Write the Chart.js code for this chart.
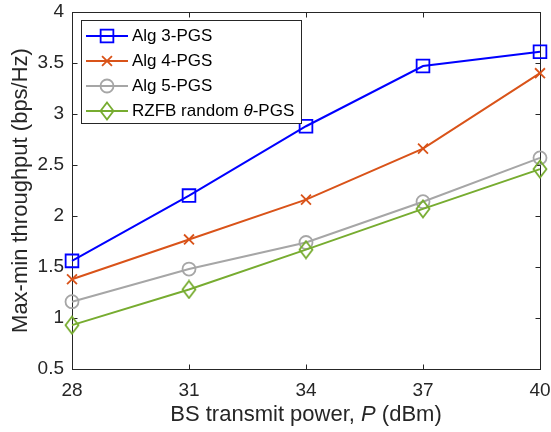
<!DOCTYPE html>
<html><head><meta charset="utf-8">
<script src="https://cdn.jsdelivr.net/npm/chart.js@4/dist/chart.umd.min.js"></script>
<style>html,body{margin:0;padding:0;background:#fff}canvas{display:block}</style>
</head><body>
<canvas id="c" width="551" height="432"></canvas>
<script>
// ---- data ----
const powers = [28, 31, 34, 37, 40];
const alg3 = [1.56, 2.20, 2.88, 3.47, 3.61];
const alg4 = [1.38, 1.77, 2.16, 2.66, 3.40];
const alg5 = [1.16, 1.48, 1.74, 2.14, 2.57];
const rzfb = [0.93, 1.28, 1.67, 2.07, 2.46];
const seriesNames = ['Alg 3-PGS', 'Alg 4-PGS', 'Alg 5-PGS', 'RZFB random θ-PGS'];
const xTicks = [28, 31, 34, 37, 40];
const yTicks = [0.5, 1, 1.5, 2, 2.5, 3, 3.5, 4];
const xTitleParts = [['BS transmit power, ', false], ['P', true], [' (dBm)', false]];
const yTitle = 'Max-min throughput (bps/Hz)';

// ---- styles ----
const FONT = '"Liberation Sans", Arial, Helvetica, sans-serif';
const AX = '#262626';
const colors = ['#0000FF', '#D95319', '#A6A6A6', '#77AC30'];

function diamondCanvas(color) {
  const c = document.createElement('canvas');
  c.width = 16; c.height = 20;
  const g = c.getContext('2d');
  g.strokeStyle = color; g.lineWidth = 1.8;
  g.beginPath();
  g.moveTo(8, 1.5); g.lineTo(14.5, 10); g.lineTo(8, 18.5); g.lineTo(1.5, 10);
  g.closePath(); g.stroke();
  return c;
}
const diamond = diamondCanvas(colors[3]);

const markerDefs = [
  {pointStyle: 'rect', radius: 9},
  {pointStyle: 'crossRot', radius: 7},
  {pointStyle: 'circle', radius: 6.5},
  {pointStyle: diamond, radius: 8}
];
const seriesValues = [alg3, alg4, alg5, rzfb];

const datasets = seriesValues.map((vals, i) => ({
  label: seriesNames[i],
  data: powers.map((p, k) => ({x: p, y: vals[k]})),
  borderColor: colors[i],
  backgroundColor: 'rgba(0,0,0,0)',
  borderWidth: 2,
  pointStyle: markerDefs[i].pointStyle,
  pointRadius: markerDefs[i].radius,
  pointHoverRadius: markerDefs[i].radius,
  pointBorderColor: colors[i],
  pointBackgroundColor: 'rgba(0,0,0,0)',
  pointBorderWidth: 1.8,
  tension: 0,
  clip: false,
  order: 4 - i
}));

function drawMarker(ctx, i, x, y) {
  const c = colors[i];
  ctx.save();
  ctx.strokeStyle = c; ctx.lineWidth = 1.8;
  if (i === 0) {
    const s = 9 * Math.SQRT1_2;
    ctx.strokeRect(x - s, y - s, 2 * s, 2 * s);
  } else if (i === 1) {
    const s = 7 * Math.SQRT1_2;
    ctx.beginPath();
    ctx.moveTo(x - s, y - s); ctx.lineTo(x + s, y + s);
    ctx.moveTo(x - s, y + s); ctx.lineTo(x + s, y - s);
    ctx.stroke();
  } else if (i === 2) {
    ctx.beginPath(); ctx.arc(x, y, 6.5, 0, Math.PI * 2); ctx.stroke();
  } else {
    ctx.drawImage(diamond, x - diamond.width / 2, y - diamond.height / 2);
  }
  ctx.restore();
}

const framePlugin = {
  id: 'frame',
  beforeDatasetsDraw(chart) {
    const {ctx, chartArea: a, scales: {x, y}} = chart;
    ctx.save();
    ctx.strokeStyle = AX; ctx.lineWidth = 1;
    const L = Math.round(a.left) + 0.5, R = Math.round(a.right) + 0.5;
    const T = Math.round(a.top) + 0.5, B = Math.round(a.bottom) + 0.5;
    ctx.strokeRect(L, T, R - L, B - T);
    ctx.beginPath();
    xTicks.forEach(v => {
      const px = Math.round(x.getPixelForValue(v)) + 0.5;
      ctx.moveTo(px, B); ctx.lineTo(px, B - 5);
      ctx.moveTo(px, T); ctx.lineTo(px, T + 5);
    });
    yTicks.forEach(v => {
      const py = Math.round(y.getPixelForValue(v)) + 0.5;
      ctx.moveTo(L, py); ctx.lineTo(L + 5, py);
      ctx.moveTo(R, py); ctx.lineTo(R - 5, py);
    });
    ctx.stroke();
    ctx.restore();
  },
  afterDatasetsDraw(chart) {
    const {ctx, chartArea: a} = chart;
    ctx.save();
    // x axis title with italic P
    const size = 22;
    let total = 0;
    xTitleParts.forEach(([t, it]) => {
      ctx.font = (it ? 'italic ' : '') + size + 'px ' + FONT;
      total += ctx.measureText(t).width;
    });
    let tx = (a.left + a.right) / 2 - total / 2;
    const ty = 415;
    ctx.fillStyle = AX; ctx.textBaseline = 'middle'; ctx.textAlign = 'left';
    xTitleParts.forEach(([t, it]) => {
      ctx.font = (it ? 'italic ' : '') + size + 'px ' + FONT;
      ctx.fillText(t, tx, ty);
      tx += ctx.measureText(t).width;
    });

    // legend
    const bx = 81.5, by = 20.5, bw = 220, bh = 103;
    ctx.fillStyle = '#fff';
    ctx.fillRect(bx, by, bw, bh);
    ctx.strokeStyle = AX; ctx.lineWidth = 1;
    ctx.strokeRect(bx, by, bw, bh);
    const rows = [36, 61, 86, 111];
    seriesNames.forEach((name, i) => {
      const ry = rows[i];
      ctx.strokeStyle = colors[i]; ctx.lineWidth = 2;
      ctx.beginPath(); ctx.moveTo(86, ry); ctx.lineTo(128, ry); ctx.stroke();
      drawMarker(ctx, i, 107, ry);
      ctx.fillStyle = '#000'; ctx.textBaseline = 'middle'; ctx.textAlign = 'left';
      let lx = 132;
      const parts = name.split(/(θ)/);
      parts.forEach(p => {
        if (!p) return;
        ctx.font = (p === 'θ' ? 'italic ' : '') + '17px ' + FONT;
        ctx.fillText(p, lx, ry);
        lx += ctx.measureText(p).width;
      });
    });
    ctx.restore();
  }
};

function zeroPad(s) { s.paddingTop = 0; s.paddingBottom = 0; s.paddingLeft = 0; s.paddingRight = 0; }

new Chart(document.getElementById('c'), {
  type: 'line',
  data: {datasets},
  options: {
    responsive: false,
    devicePixelRatio: 1,
    animation: false,
    events: [],
    layout: {padding: {top: 12, right: 11, left: 0, bottom: 0}},
    plugins: {legend: {display: false}, tooltip: {enabled: false}},
    scales: {
      x: {
        type: 'linear', min: 28, max: 40,
        afterFit(s) { s.height = 63; zeroPad(s); },
        afterBuildTicks(s) { s.ticks = xTicks.map(v => ({value: v})); },
        grid: {display: false, drawTicks: false},
        border: {display: false},
        ticks: {color: AX, font: {family: FONT, size: 19}, padding: 10, maxRotation: 0, callback: v => String(v)}
      },
      y: {
        type: 'linear', min: 0.5, max: 4,
        afterFit(s) { s.width = 72; zeroPad(s); },
        afterBuildTicks(s) { s.ticks = yTicks.map(v => ({value: v})); },
        grid: {display: false, drawTicks: false},
        border: {display: false},
        ticks: {color: AX, font: {family: FONT, size: 19}, padding: 8, callback: v => String(v)},
        title: {display: true, text: yTitle, color: AX, font: {family: FONT, size: 22}, padding: {top: 8, bottom: 0}}
      }
    }
  },
  plugins: [framePlugin]
});
</script>
</body></html>
